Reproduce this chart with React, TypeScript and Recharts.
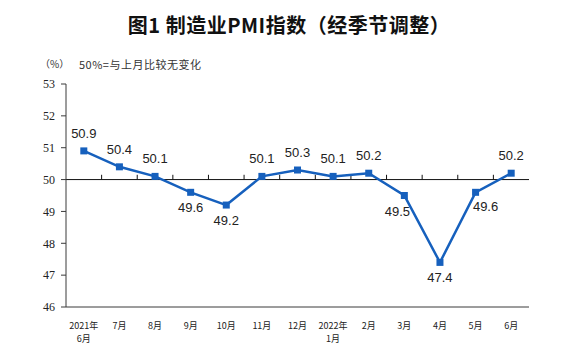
import React from "react";
import { LineChart, Line, XAxis, YAxis, ReferenceLine, LabelList } from "recharts";

const months = [
  "2021年\n6月", "7月", "8月", "9月", "10月", "11月", "12月",
  "2022年\n1月", "2月", "3月", "4月", "5月", "6月",
];
const pmi = [50.9, 50.4, 50.1, 49.6, 49.2, 50.1, 50.3, 50.1, 50.2, 49.5, 47.4, 49.6, 50.2];
// where the value label sits relative to its point
const labelPos = ["up", "up", "up", "down", "down", "up", "up", "up", "up", "down", "down", "downRight", "up"];
const yTicks = [46, 47, 48, 49, 50, 51, 52, 53];

const data = months.map((m, i) => ({ idx: i, month: m, value: pmi[i], pos: labelPos[i] }));

const BLUE = "#1660bd";
const FRAME = "#3a3a3a";

function MonthTick(props: any) {
  const { x, y, payload } = props;
  const lines = String(months[payload.value] ?? "").split("\n");
  return (
    <text x={x} y={y} textAnchor="middle" fontSize={9} fill="#222" fontFamily="'Noto Sans CJK SC', sans-serif">
      {lines.map((l, i) => (
        <tspan key={i} x={x} dy={i === 0 ? 14 : 13}>{l}</tspan>
      ))}
    </text>
  );
}

function ValueLabel(props: any) {
  const { x, y, value, index } = props;
  const pos = labelPos[index];
  let dx = 0;
  let dy = -13;
  if (pos === "down") dy = 20;
  if (pos === "downRight") { dy = 19; dx = 10; }
  if (index === 9) dx = -7;
  return (
    <text x={x + dx} y={y + dy} textAnchor="middle" fontSize={13} fill="#222" fontFamily="'Liberation Sans', Arial, sans-serif">
      {Number(value).toFixed(1)}
    </text>
  );
}

export default function App() {
  return (
    <div style={{ position: "absolute", left: 0, top: 0, width: 570, height: 362, background: "#fff" }}>
      <div style={{ position: "absolute", left: 4, top: 11, width: 570, textAlign: "center", fontSize: 20, fontWeight: 700, color: "#111", fontFamily: "'Noto Sans CJK SC', sans-serif", lineHeight: "28px", letterSpacing: 0.5 }}>
        图1 制造业PMI指数（经季节调整）
      </div>
      <div style={{ position: "absolute", left: 40, top: 57, fontSize: 10, color: "#333", fontFamily: "'Noto Sans CJK SC', sans-serif", lineHeight: "14px", whiteSpace: "pre" }}>
        （%）
      </div>
      <div style={{ position: "absolute", left: 79, top: 57, fontSize: 11, color: "#333", fontFamily: "'Noto Sans CJK SC', sans-serif", lineHeight: "14px", whiteSpace: "pre", letterSpacing: 0.5 }}>
        50%=与上月比较无变化
      </div>
      <LineChart width={570} height={362} data={data} margin={{ top: 84, right: 41, bottom: 25, left: 36 }}>
        <XAxis
          dataKey="idx"
          type="number"
          domain={[-0.5, months.length - 0.5]}
          ticks={months.map((_, i) => i)}
          tick={<MonthTick />}
          tickLine={false}
          axisLine={{ stroke: FRAME }}
          height={30}
          interval={0}
        />
        <XAxis xAxisId="top" orientation="top" tick={false} tickLine={false} axisLine={{ stroke: FRAME }} height={0} />
        <YAxis
          domain={[46, 53]}
          ticks={yTicks}
          width={30}
          tickSize={5}
          tickMargin={6}
          tickLine={{ stroke: FRAME }}
          axisLine={{ stroke: FRAME }}
          tick={{ fontSize: 12, fill: "#222", fontFamily: "'Liberation Serif', serif" }}
          interval={0}
        />
        <YAxis yAxisId="right" orientation="right" tick={false} tickLine={false} axisLine={{ stroke: FRAME }} width={0} />
        <ReferenceLine y={50} stroke="#111" strokeWidth={1} />
        {months.slice(1).map((_, i) => (
          <ReferenceLine
            key={i}
            segment={[{ x: i + 0.5, y: 50 }, { x: i + 0.5, y: 50.15 }]}
            stroke="#111"
            strokeWidth={1}
          />
        ))}
        <Line
          type="linear"
          dataKey="value"
          stroke={BLUE}
          strokeWidth={2.5}
          isAnimationActive={false}
          dot={(p: any) => (
            <rect key={p.index} x={p.cx - 3.5} y={p.cy - 3.5} width={7} height={7} fill={BLUE} />
          )}
          activeDot={false}
        >
          <LabelList dataKey="value" content={<ValueLabel />} />
        </Line>
      </LineChart>
    </div>
  );
}
